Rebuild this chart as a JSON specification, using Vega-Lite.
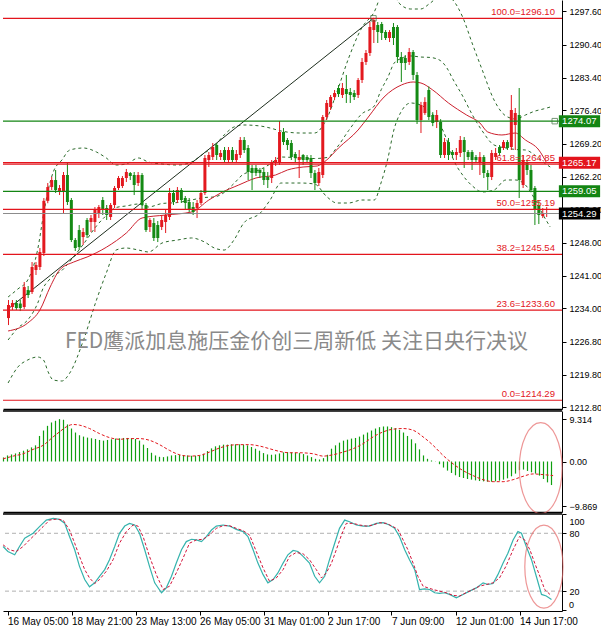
{
  "$schema": "https://vega.github.io/schema/vega-lite/v6.json",
  "padding": 0,
  "background": "#ffffff",
  "bounds": "flush",
  "spacing": 2,
  "config": {
    "view": {"stroke": null},
    "axis": {"grid": false, "labelFont": "Liberation Sans", "labelFontSize": 9, "labelColor": "#000000", "domainColor": "#000000", "tickColor": "#000000", "tickSize": 4, "labelPadding": 3, "labelOverlap": false, "labelBound": false}
  },
  "datasets": {
    "candles": [
      {"i":-1,"o":1231.9,"h":1235.76,"l":1230.4,"c":1234.69},
      {"i":0,"o":1234.26,"h":1235.76,"l":1233.62,"c":1235.12},
      {"i":1,"o":1235.12,"h":1235.76,"l":1233.62,"c":1234.05},
      {"i":2,"o":1235.0,"h":1235.76,"l":1233.4,"c":1234.05},
      {"i":3,"o":1234.26,"h":1239.62,"l":1233.83,"c":1238.54},
      {"i":4,"o":1237.9,"h":1238.76,"l":1236.19,"c":1236.83},
      {"i":5,"o":1237.47,"h":1243.9,"l":1237.05,"c":1242.83},
      {"i":6,"o":1242.19,"h":1243.9,"l":1241.12,"c":1243.26},
      {"i":7,"o":1242.83,"h":1246.9,"l":1242.19,"c":1246.04},
      {"i":8,"o":1245.83,"h":1257.6,"l":1245.18,"c":1257.0},
      {"i":9,"o":1257.0,"h":1260.82,"l":1256.5,"c":1259.96},
      {"i":10,"o":1259.96,"h":1262.11,"l":1259.32,"c":1261.46},
      {"i":11,"o":1261.46,"h":1263.61,"l":1258.68,"c":1259.32},
      {"i":12,"o":1259.1,"h":1260.39,"l":1258.25,"c":1259.75},
      {"i":13,"o":1258.89,"h":1263.18,"l":1254.4,"c":1262.54},
      {"i":14,"o":1262.54,"h":1265.11,"l":1256.11,"c":1256.75},
      {"i":15,"o":1257.18,"h":1257.61,"l":1248.18,"c":1248.61},
      {"i":16,"o":1248.61,"h":1249.04,"l":1246.26,"c":1246.9},
      {"i":17,"o":1250.75,"h":1251.83,"l":1246.47,"c":1247.11},
      {"i":18,"o":1249.25,"h":1251.18,"l":1247.54,"c":1250.33},
      {"i":19,"o":1252.9,"h":1253.32,"l":1249.04,"c":1249.68},
      {"i":20,"o":1252.47,"h":1253.97,"l":1250.33,"c":1253.32},
      {"i":21,"o":1252.47,"h":1255.68,"l":1250.33,"c":1255.04},
      {"i":22,"o":1254.4,"h":1256.11,"l":1253.32,"c":1255.68},
      {"i":23,"o":1257.18,"h":1257.82,"l":1253.97,"c":1255.04},
      {"i":24,"o":1255.47,"h":1256.11,"l":1252.9,"c":1253.97},
      {"i":25,"o":1253.54,"h":1256.54,"l":1252.9,"c":1256.11},
      {"i":26,"o":1256.11,"h":1260.18,"l":1255.47,"c":1259.75},
      {"i":27,"o":1259.75,"h":1262.32,"l":1259.32,"c":1261.89},
      {"i":28,"o":1260.18,"h":1262.32,"l":1259.75,"c":1261.89},
      {"i":29,"o":1261.89,"h":1263.83,"l":1261.04,"c":1263.18},
      {"i":30,"o":1262.96,"h":1263.18,"l":1261.46,"c":1262.32},
      {"i":31,"o":1262.54,"h":1263.18,"l":1258.25,"c":1260.39},
      {"i":32,"o":1260.82,"h":1263.18,"l":1260.18,"c":1262.54},
      {"i":33,"o":1262.54,"h":1262.96,"l":1255.25,"c":1256.11},
      {"i":34,"o":1256.11,"h":1256.54,"l":1250.33,"c":1250.75},
      {"i":35,"o":1251.4,"h":1253.32,"l":1250.33,"c":1252.9},
      {"i":36,"o":1252.25,"h":1253.32,"l":1248.4,"c":1249.04},
      {"i":37,"o":1251.83,"h":1252.68,"l":1248.18,"c":1249.04},
      {"i":38,"o":1251.4,"h":1253.97,"l":1250.75,"c":1252.9},
      {"i":39,"o":1252.47,"h":1255.04,"l":1250.11,"c":1253.97},
      {"i":40,"o":1253.54,"h":1259.75,"l":1252.9,"c":1258.68},
      {"i":41,"o":1258.68,"h":1259.32,"l":1256.11,"c":1256.75},
      {"i":42,"o":1257.18,"h":1259.96,"l":1256.54,"c":1259.32},
      {"i":43,"o":1259.32,"h":1259.75,"l":1256.54,"c":1257.18},
      {"i":44,"o":1257.61,"h":1258.04,"l":1255.04,"c":1256.54},
      {"i":45,"o":1256.75,"h":1257.61,"l":1254.61,"c":1255.04},
      {"i":46,"o":1255.68,"h":1256.75,"l":1253.97,"c":1254.61},
      {"i":47,"o":1255.47,"h":1257.18,"l":1253.32,"c":1256.54},
      {"i":48,"o":1256.54,"h":1259.32,"l":1256.11,"c":1258.68},
      {"i":49,"o":1258.68,"h":1266.82,"l":1258.25,"c":1266.18},
      {"i":50,"o":1265.75,"h":1267.46,"l":1264.25,"c":1266.82},
      {"i":51,"o":1266.39,"h":1269.39,"l":1265.75,"c":1268.53},
      {"i":52,"o":1268.96,"h":1269.39,"l":1265.75,"c":1266.82},
      {"i":53,"o":1266.39,"h":1267.89,"l":1265.75,"c":1267.25},
      {"i":54,"o":1267.89,"h":1268.53,"l":1265.32,"c":1265.75},
      {"i":55,"o":1265.75,"h":1268.53,"l":1265.32,"c":1267.89},
      {"i":56,"o":1267.89,"h":1268.53,"l":1265.32,"c":1265.75},
      {"i":57,"o":1265.75,"h":1267.89,"l":1265.32,"c":1267.03},
      {"i":58,"o":1266.82,"h":1270.67,"l":1266.18,"c":1270.03},
      {"i":59,"o":1270.03,"h":1270.67,"l":1267.25,"c":1267.89},
      {"i":60,"o":1268.32,"h":1268.96,"l":1261.46,"c":1263.18},
      {"i":61,"o":1264.04,"h":1264.68,"l":1259.32,"c":1262.96},
      {"i":62,"o":1264.04,"h":1264.68,"l":1262.32,"c":1262.96},
      {"i":63,"o":1263.61,"h":1264.04,"l":1261.89,"c":1262.96},
      {"i":64,"o":1263.18,"h":1264.04,"l":1260.39,"c":1261.46},
      {"i":65,"o":1262.11,"h":1263.18,"l":1259.75,"c":1261.46},
      {"i":66,"o":1261.89,"h":1265.75,"l":1260.82,"c":1265.11},
      {"i":67,"o":1265.11,"h":1266.39,"l":1264.46,"c":1265.75},
      {"i":68,"o":1265.32,"h":1274.1,"l":1264.68,"c":1271.75},
      {"i":69,"o":1271.75,"h":1272.6,"l":1268.96,"c":1269.6},
      {"i":70,"o":1270.03,"h":1270.46,"l":1267.89,"c":1268.96},
      {"i":71,"o":1269.39,"h":1270.03,"l":1265.75,"c":1266.39},
      {"i":72,"o":1267.03,"h":1267.46,"l":1265.32,"c":1266.18},
      {"i":73,"o":1265.75,"h":1267.89,"l":1261.89,"c":1266.39},
      {"i":74,"o":1266.82,"h":1267.03,"l":1264.68,"c":1265.75},
      {"i":75,"o":1266.39,"h":1266.82,"l":1265.32,"c":1265.75},
      {"i":76,"o":1266.18,"h":1266.82,"l":1261.89,"c":1262.96},
      {"i":77,"o":1262.96,"h":1263.61,"l":1259.32,"c":1260.82},
      {"i":78,"o":1260.82,"h":1264.04,"l":1260.18,"c":1263.18},
      {"i":79,"o":1262.54,"h":1275.39,"l":1261.89,"c":1274.96},
      {"i":80,"o":1274.96,"h":1278.6,"l":1274.32,"c":1277.96},
      {"i":81,"o":1277.1,"h":1279.67,"l":1276.46,"c":1279.24},
      {"i":82,"o":1279.24,"h":1280.74,"l":1278.6,"c":1280.1},
      {"i":83,"o":1281.17,"h":1281.81,"l":1279.24,"c":1279.88},
      {"i":84,"o":1279.67,"h":1282.24,"l":1279.03,"c":1281.17},
      {"i":85,"o":1280.96,"h":1283.96,"l":1277.96,"c":1279.88},
      {"i":86,"o":1280.31,"h":1281.17,"l":1277.96,"c":1279.67},
      {"i":87,"o":1280.1,"h":1280.74,"l":1278.6,"c":1279.24},
      {"i":88,"o":1279.67,"h":1283.31,"l":1279.03,"c":1282.88},
      {"i":89,"o":1282.88,"h":1287.6,"l":1282.24,"c":1286.74},
      {"i":90,"o":1286.74,"h":1289.31,"l":1286.1,"c":1288.67},
      {"i":91,"o":1288.67,"h":1295.31,"l":1288.03,"c":1294.24},
      {"i":92,"o":1293.59,"h":1296.1,"l":1290.81,"c":1295.74},
      {"i":93,"o":1294.66,"h":1295.31,"l":1290.81,"c":1293.17},
      {"i":94,"o":1294.88,"h":1295.31,"l":1291.45,"c":1292.95},
      {"i":95,"o":1293.17,"h":1293.59,"l":1291.45,"c":1291.88},
      {"i":96,"o":1291.88,"h":1293.59,"l":1291.02,"c":1293.17},
      {"i":97,"o":1294.24,"h":1295.09,"l":1290.38,"c":1291.88},
      {"i":98,"o":1294.24,"h":1294.66,"l":1286.53,"c":1287.81},
      {"i":99,"o":1287.81,"h":1288.88,"l":1282.46,"c":1286.53},
      {"i":100,"o":1287.6,"h":1288.24,"l":1285.03,"c":1286.53},
      {"i":101,"o":1286.74,"h":1289.74,"l":1286.1,"c":1288.88},
      {"i":102,"o":1288.88,"h":1289.31,"l":1282.88,"c":1283.96},
      {"i":103,"o":1283.96,"h":1284.6,"l":1273.46,"c":1274.32},
      {"i":104,"o":1274.32,"h":1278.2,"l":1271.53,"c":1277.53},
      {"i":105,"o":1275.81,"h":1279.2,"l":1275.4,"c":1278.17},
      {"i":106,"o":1280.74,"h":1281.5,"l":1274.3,"c":1274.96},
      {"i":107,"o":1275.39,"h":1276.0,"l":1273.0,"c":1273.68},
      {"i":108,"o":1273.9,"h":1276.46,"l":1272.6,"c":1275.39},
      {"i":109,"o":1273.89,"h":1274.5,"l":1266.18,"c":1266.82},
      {"i":110,"o":1266.82,"h":1270.46,"l":1266.18,"c":1269.6},
      {"i":111,"o":1269.6,"h":1270.46,"l":1265.75,"c":1266.82},
      {"i":112,"o":1267.46,"h":1267.89,"l":1266.18,"c":1266.82},
      {"i":113,"o":1266.82,"h":1268.32,"l":1265.75,"c":1267.46},
      {"i":114,"o":1267.25,"h":1270.89,"l":1266.39,"c":1270.03},
      {"i":115,"o":1270.03,"h":1270.67,"l":1264.04,"c":1267.46},
      {"i":116,"o":1267.46,"h":1267.89,"l":1265.75,"c":1266.39},
      {"i":117,"o":1267.46,"h":1267.89,"l":1263.61,"c":1265.75},
      {"i":118,"o":1266.39,"h":1266.82,"l":1265.32,"c":1265.75},
      {"i":119,"o":1265.11,"h":1267.46,"l":1262.54,"c":1266.39},
      {"i":120,"o":1266.39,"h":1266.82,"l":1261.89,"c":1262.96},
      {"i":121,"o":1262.96,"h":1263.61,"l":1259.32,"c":1262.11},
      {"i":122,"o":1262.11,"h":1267.89,"l":1261.46,"c":1267.25},
      {"i":123,"o":1266.39,"h":1268.32,"l":1265.75,"c":1267.25},
      {"i":124,"o":1268.53,"h":1268.96,"l":1266.6,"c":1267.25},
      {"i":125,"o":1268.32,"h":1270.03,"l":1267.89,"c":1269.6},
      {"i":126,"o":1269.6,"h":1270.03,"l":1267.89,"c":1268.32},
      {"i":127,"o":1268.53,"h":1279.67,"l":1267.89,"c":1276.46},
      {"i":128,"o":1273.25,"h":1276.89,"l":1267.89,"c":1275.81},
      {"i":129,"o":1275.39,"h":1281.17,"l":1257.61,"c":1261.46},
      {"i":130,"o":1260.39,"h":1266.82,"l":1259.75,"c":1265.75},
      {"i":131,"o":1265.11,"h":1265.75,"l":1262.54,"c":1263.61},
      {"i":132,"o":1263.61,"h":1264.68,"l":1258.89,"c":1259.32},
      {"i":133,"o":1259.75,"h":1260.18,"l":1251.83,"c":1255.04},
      {"i":134,"o":1256.11,"h":1257.18,"l":1252.04,"c":1253.97},
      {"i":135,"o":1253.75,"h":1255.47,"l":1253.32,"c":1254.4},
      {"i":136,"o":1254.18,"h":1255.68,"l":1253.54,"c":1254.29}
    ],
    "bands": [
      {"i":-1.1,"u":1236.41,"m":1227.2,"l":1217.99},
      {"i":1.4,"u":1238.13,"m":1229.78,"l":1221.42},
      {"i":3.9,"u":1240.05,"m":1231.49,"l":1222.92},
      {"i":6.4,"u":1246.47,"m":1235.02,"l":1223.56},
      {"i":7.9,"u":1253.97,"m":1238.45,"l":1222.92},
      {"i":9.1,"u":1259.33,"m":1239.84,"l":1220.35},
      {"i":10.4,"u":1263.18,"m":1240.91,"l":1218.63},
      {"i":12.6,"u":1265.75,"m":1242.09,"l":1218.42},
      {"i":14.6,"u":1267.89,"m":1244.01,"l":1220.13},
      {"i":18.1,"u":1268.32,"m":1247.76,"l":1227.2},
      {"i":21.4,"u":1267.46,"m":1251.62,"l":1235.77},
      {"i":23.9,"u":1266.18,"m":1253.87,"l":1241.55},
      {"i":26.4,"u":1264.68,"m":1255.58,"l":1246.47},
      {"i":28.9,"u":1264.89,"m":1255.9,"l":1246.9},
      {"i":32.1,"u":1266.18,"m":1256.33,"l":1246.47},
      {"i":34.6,"u":1265.32,"m":1255.69,"l":1246.05},
      {"i":38.1,"u":1264.89,"m":1256.43,"l":1247.97},
      {"i":42.1,"u":1264.68,"m":1256.65,"l":1248.62},
      {"i":45.6,"u":1265.32,"m":1257.19,"l":1249.05},
      {"i":48.9,"u":1267.25,"m":1257.72,"l":1248.19},
      {"i":51.4,"u":1268.75,"m":1257.83,"l":1246.9},
      {"i":53.9,"u":1271.11,"m":1258.79,"l":1246.47},
      {"i":56.4,"u":1272.82,"m":1260.72,"l":1248.62},
      {"i":58.9,"u":1273.25,"m":1262.76,"l":1252.26},
      {"i":63.1,"u":1273.03,"m":1263.72,"l":1254.4},
      {"i":65.6,"u":1272.6,"m":1264.89,"l":1257.18},
      {"i":68.4,"u":1271.96,"m":1266.39,"l":1260.82},
      {"i":73.4,"u":1271.53,"m":1266.18,"l":1260.82},
      {"i":76.9,"u":1271.53,"m":1266.07,"l":1260.61},
      {"i":80.1,"u":1274.75,"m":1266.29,"l":1257.83},
      {"i":82.6,"u":1280.32,"m":1268.43,"l":1256.54},
      {"i":85.6,"u":1287.6,"m":1272.07,"l":1256.54},
      {"i":88.9,"u":1294.02,"m":1275.6,"l":1257.18},
      {"i":92.1,"u":1297.45,"m":1277.32,"l":1257.18},
      {"i":93.9,"u":1300.66,"m":1280.85,"l":1261.04},
      {"i":95.6,"u":1300.88,"m":1283.53,"l":1266.18},
      {"i":97.1,"u":1300.66,"m":1286.42,"l":1272.18},
      {"i":98.9,"u":1298.95,"m":1287.49,"l":1276.03},
      {"i":101.4,"u":1298.09,"m":1288.03,"l":1277.96},
      {"i":103.9,"u":1298.09,"m":1287.81,"l":1277.53},
      {"i":106.4,"u":1299.38,"m":1287.71,"l":1276.03},
      {"i":108.9,"u":1300.88,"m":1287.07,"l":1273.25},
      {"i":110.6,"u":1300.88,"m":1285.46,"l":1270.03},
      {"i":112.1,"u":1300.02,"m":1283.1,"l":1266.18},
      {"i":114.6,"u":1296.38,"m":1279.46,"l":1262.54},
      {"i":117.1,"u":1290.6,"m":1275.39,"l":1260.18},
      {"i":119.6,"u":1285.03,"m":1271.97,"l":1258.9},
      {"i":122.6,"u":1278.6,"m":1268.97,"l":1259.33},
      {"i":125.6,"u":1275.18,"m":1268.33,"l":1261.47},
      {"i":128.1,"u":1274.53,"m":1268.0,"l":1261.47},
      {"i":130.6,"u":1275.39,"m":1267.89,"l":1260.39},
      {"i":133.1,"u":1276.25,"m":1266.72,"l":1257.18},
      {"i":135.1,"u":1276.67,"m":1265.32,"l":1253.97},
      {"i":136.9,"u":1277.1,"m":1264.25,"l":1251.4}
    ],
    "ma": [
      {"i":-1.1,"v":1229.13},{"i":3.9,"v":1230.84},{"i":7.0,"v":1233.62},{"i":9.6,"v":1238.55},
      {"i":12.0,"v":1242.19},{"i":15.6,"v":1243.9},{"i":19.0,"v":1244.97},{"i":24.0,"v":1247.11},
      {"i":29.0,"v":1250.12},{"i":33.0,"v":1253.33},{"i":39.0,"v":1253.97},{"i":45.6,"v":1254.61},
      {"i":50.0,"v":1257.18},{"i":53.0,"v":1258.68},{"i":57.6,"v":1260.39},{"i":62.0,"v":1261.9},
      {"i":67.0,"v":1262.54},{"i":70.0,"v":1263.61},{"i":74.0,"v":1264.25},{"i":77.6,"v":1264.47},
      {"i":80.0,"v":1265.75},{"i":83.0,"v":1268.32},{"i":88.0,"v":1272.18},{"i":90.6,"v":1274.96},
      {"i":94.6,"v":1279.24},{"i":99.0,"v":1281.81},{"i":102.0,"v":1282.46},{"i":104.0,"v":1282.24},
      {"i":107.0,"v":1280.74},{"i":111.0,"v":1277.96},{"i":115.6,"v":1275.39},{"i":119.0,"v":1273.68},
      {"i":121.0,"v":1271.75},{"i":124.6,"v":1271.11},{"i":128.0,"v":1271.53},{"i":130.6,"v":1270.03},
      {"i":134.0,"v":1267.89},{"i":136.0,"v":1265.11}
    ],
    "diag": [{"i":-1.125,"v":1233.84},{"i":91.9,"v":1296.1}],
    "levels": [
      {"p":1296.1,"kind":"fib"},{"p":1264.85,"kind":"fib"},{"p":1255.19,"kind":"fib"},
      {"p":1245.54,"kind":"fib"},{"p":1233.6,"kind":"fib"},{"p":1214.29,"kind":"fib"},
      {"p":1265.17,"kind":"red"},{"p":1274.07,"kind":"green"},{"p":1259.05,"kind":"green"},
      {"p":1254.29,"kind":"bid"}
    ],
    "fiblabels": [
      {"p":1296.1,"label":"100.0=1296.10"},{"p":1264.85,"label":"61.8=1264.85"},
      {"p":1255.19,"label":"50.0=1255.19"},{"p":1245.54,"label":"38.2=1245.54"},
      {"p":1233.6,"label":"23.6=1233.60"},{"p":1214.29,"label":"0.0=1214.29"}
    ],
    "tags": [
      {"p":1274.07,"kind":"green"},{"p":1265.17,"kind":"red"},
      {"p":1259.05,"kind":"green"},{"p":1254.29,"kind":"bid"}
    ],
    "macd": [
      {"i":-1,"h":0.89},{"i":0,"h":1.33},{"i":1,"h":1.55},{"i":2,"h":1.77},{"i":3,"h":2.07},{"i":4,"h":2.37},
      {"i":5,"h":2.66},{"i":6,"h":3.1},{"i":7,"h":3.55},{"i":8,"h":5.61},{"i":9,"h":6.8},{"i":10,"h":7.83},
      {"i":11,"h":8.57},{"i":12,"h":8.94},{"i":13,"h":9.31},{"i":14,"h":9.17},{"i":15,"h":8.14},{"i":16,"h":7.24},
      {"i":17,"h":6.36},{"i":18,"h":5.77},{"i":19,"h":5.47},{"i":20,"h":5.25},{"i":21,"h":5.1},{"i":22,"h":4.95},
      {"i":23,"h":4.73},{"i":24,"h":4.58},{"i":25,"h":4.73},{"i":26,"h":4.88},{"i":27,"h":5.03},{"i":28,"h":5.1},
      {"i":29,"h":5.17},{"i":30,"h":5.17},{"i":31,"h":5.1},{"i":32,"h":4.95},{"i":33,"h":4.58},{"i":34,"h":3.7},
      {"i":35,"h":2.96},{"i":36,"h":1.92},{"i":37,"h":1.33},{"i":38,"h":1.03},{"i":39,"h":0.96},{"i":40,"h":1.11},
      {"i":41,"h":1.33},{"i":42,"h":1.4},{"i":43,"h":1.48},{"i":44,"h":1.4},{"i":45,"h":1.33},{"i":46,"h":1.26},
      {"i":47,"h":1.26},{"i":48,"h":1.33},{"i":49,"h":1.7},{"i":50,"h":2.29},{"i":51,"h":2.88},{"i":52,"h":3.33},
      {"i":53,"h":3.55},{"i":54,"h":3.7},{"i":55,"h":3.7},{"i":56,"h":3.77},{"i":57,"h":3.77},{"i":58,"h":3.77},
      {"i":59,"h":3.7},{"i":60,"h":3.55},{"i":61,"h":3.18},{"i":62,"h":2.81},{"i":63,"h":2.37},{"i":64,"h":1.85},
      {"i":65,"h":1.55},{"i":66,"h":1.48},{"i":67,"h":1.55},{"i":68,"h":1.77},{"i":69,"h":2.0},{"i":70,"h":2.07},
      {"i":71,"h":2.0},{"i":72,"h":1.92},{"i":73,"h":1.85},{"i":74,"h":1.63},{"i":75,"h":1.33},{"i":76,"h":0.96},
      {"i":77,"h":0.59},{"i":78,"h":0.44},{"i":79,"h":0.74},{"i":80,"h":1.48},{"i":81,"h":2.81},{"i":82,"h":3.55},
      {"i":83,"h":4.14},{"i":84,"h":4.58},{"i":85,"h":4.8},{"i":86,"h":5.03},{"i":87,"h":5.17},{"i":88,"h":5.47},
      {"i":89,"h":5.91},{"i":90,"h":6.36},{"i":91,"h":6.8},{"i":92,"h":7.24},{"i":93,"h":7.54},{"i":94,"h":7.69},
      {"i":95,"h":7.69},{"i":96,"h":7.54},{"i":97,"h":7.32},{"i":98,"h":6.95},{"i":99,"h":6.36},{"i":100,"h":5.61},
      {"i":101,"h":4.88},{"i":102,"h":3.99},{"i":103,"h":2.66},{"i":104,"h":1.33},{"i":105,"h":0.59},{"i":106,"h":0.22},
      {"i":107,"h":0.05},{"i":108,"h":-0.59},{"i":109,"h":-1.33},{"i":110,"h":-2.0},{"i":111,"h":-2.51},{"i":112,"h":-3.03},
      {"i":113,"h":-3.4},{"i":114,"h":-3.62},{"i":115,"h":-3.84},{"i":116,"h":-3.99},{"i":117,"h":-4.14},{"i":118,"h":-4.29},
      {"i":119,"h":-4.36},{"i":120,"h":-4.43},{"i":121,"h":-4.43},{"i":122,"h":-4.36},{"i":123,"h":-4.21},{"i":124,"h":-3.99},
      {"i":125,"h":-3.7},{"i":126,"h":-3.25},{"i":127,"h":-2.66},{"i":128,"h":-1.92},{"i":129,"h":-1.77},{"i":130,"h":-2.07},
      {"i":131,"h":-2.37},{"i":132,"h":-2.66},{"i":133,"h":-3.1},{"i":134,"h":-3.84},{"i":135,"h":-4.58},{"i":136,"h":-5.17}
    ],
    "signal": [
      {"i":-1.1,"v":0.59},{"i":1.4,"v":1.18},{"i":3.9,"v":1.7},{"i":6.4,"v":2.66},{"i":8.9,"v":3.55},
      {"i":11.4,"v":5.4},{"i":13.0,"v":6.5},{"i":14.7,"v":7.61},{"i":16.4,"v":8.13},{"i":18.0,"v":7.98},
      {"i":20.5,"v":7.24},{"i":23.0,"v":6.13},{"i":25.5,"v":5.25},{"i":28.0,"v":4.88},{"i":30.5,"v":5.03},
      {"i":33.0,"v":5.03},{"i":35.5,"v":4.66},{"i":38.0,"v":3.7},{"i":40.5,"v":2.44},{"i":43.0,"v":1.48},
      {"i":45.5,"v":1.18},{"i":48.0,"v":1.33},{"i":50.5,"v":2.07},{"i":53.0,"v":2.96},{"i":55.5,"v":3.55},
      {"i":58.0,"v":3.7},{"i":60.5,"v":3.7},{"i":63.0,"v":3.4},{"i":65.5,"v":2.81},{"i":68.0,"v":2.22},
      {"i":70.5,"v":1.92},{"i":73.0,"v":1.92},{"i":76.4,"v":1.7},{"i":78.9,"v":1.18},{"i":81.4,"v":1.48},
      {"i":83.9,"v":2.07},{"i":86.4,"v":2.81},{"i":88.9,"v":3.92},{"i":91.4,"v":5.4},{"i":93.9,"v":6.5},
      {"i":96.4,"v":7.1},{"i":98.9,"v":7.24},{"i":101.4,"v":6.87},{"i":103.9,"v":5.4},{"i":106.4,"v":3.55},
      {"i":108.9,"v":1.33},{"i":111.4,"v":-0.52},{"i":113.9,"v":-2.0},{"i":116.4,"v":-3.1},{"i":118.9,"v":-3.99},
      {"i":121.4,"v":-4.43},{"i":123.9,"v":-4.43},{"i":126.4,"v":-3.99},{"i":128.9,"v":-3.25},{"i":131.4,"v":-2.73},
      {"i":133.9,"v":-2.88},{"i":136.4,"v":-3.1}
    ],
    "stochK": [
      {"i":-1.1,"v":66.3},{"i":0.1,"v":61.1},{"i":1.8,"v":57.7},{"i":3.0,"v":66.3},{"i":4.3,"v":74.9},
      {"i":6.4,"v":80.0},{"i":8.0,"v":86.9},{"i":9.7,"v":93.7},{"i":11.4,"v":95.4},{"i":13.0,"v":94.4},
      {"i":14.3,"v":90.3},{"i":15.5,"v":76.6},{"i":16.8,"v":62.9},{"i":18.0,"v":45.7},{"i":19.3,"v":32.0},
      {"i":20.5,"v":24.5},{"i":21.8,"v":28.6},{"i":23.0,"v":35.4},{"i":24.3,"v":42.3},{"i":25.5,"v":52.6},
      {"i":26.8,"v":66.3},{"i":28.0,"v":80.0},{"i":29.3,"v":87.5},{"i":30.5,"v":90.3},{"i":31.8,"v":88.6},
      {"i":33.0,"v":80.0},{"i":34.3,"v":62.9},{"i":35.5,"v":45.7},{"i":36.8,"v":28.6},{"i":38.5,"v":18.3},
      {"i":39.7,"v":23.4},{"i":41.0,"v":35.4},{"i":42.2,"v":49.1},{"i":43.5,"v":62.9},{"i":44.7,"v":71.4},
      {"i":46.0,"v":73.8},{"i":47.2,"v":73.1},{"i":48.5,"v":71.4},{"i":49.7,"v":76.6},{"i":51.0,"v":83.4},
      {"i":52.2,"v":87.5},{"i":53.9,"v":88.6},{"i":55.5,"v":87.5},{"i":57.2,"v":84.1},{"i":58.9,"v":81.7},
      {"i":60.1,"v":76.6},{"i":61.4,"v":62.9},{"i":62.6,"v":49.1},{"i":63.9,"v":37.1},{"i":65.1,"v":28.6},
      {"i":66.4,"v":32.0},{"i":67.6,"v":38.9},{"i":68.9,"v":49.1},{"i":70.1,"v":57.7},{"i":71.4,"v":62.2},
      {"i":72.6,"v":61.1},{"i":73.9,"v":56.0},{"i":75.5,"v":49.1},{"i":76.8,"v":35.4},{"i":78.0,"v":28.6},
      {"i":79.3,"v":35.4},{"i":80.5,"v":52.6},{"i":81.8,"v":69.7},{"i":83.0,"v":85.1},{"i":84.3,"v":93.7},
      {"i":85.5,"v":92.0},{"i":87.2,"v":88.6},{"i":88.9,"v":87.5},{"i":90.5,"v":87.5},{"i":92.2,"v":90.3},
      {"i":93.9,"v":91.0},{"i":95.5,"v":88.6},{"i":96.8,"v":85.1},{"i":98.0,"v":76.6},{"i":99.3,"v":62.9},
      {"i":100.5,"v":52.6},{"i":101.8,"v":42.3},{"i":103.0,"v":21.7},{"i":104.3,"v":22.4},{"i":105.5,"v":21.7},
      {"i":106.8,"v":18.3},{"i":108.0,"v":17.6},{"i":109.3,"v":18.3},{"i":110.5,"v":16.6},{"i":112.2,"v":13.1},
      {"i":113.9,"v":16.6},{"i":115.5,"v":20.0},{"i":117.2,"v":23.4},{"i":118.9,"v":28.6},{"i":120.1,"v":26.9},
      {"i":121.4,"v":27.9},{"i":122.6,"v":37.1},{"i":123.9,"v":49.1},{"i":125.1,"v":59.4},{"i":126.4,"v":73.1},
      {"i":127.6,"v":81.7},{"i":128.5,"v":80.0},{"i":129.7,"v":66.3},{"i":131.0,"v":52.6},{"i":132.2,"v":35.4},
      {"i":133.5,"v":16.6},{"i":134.7,"v":14.9},{"i":136.0,"v":11.4}
    ],
    "stochD": [
      {"i":-1.1,"v":68.0},{"i":0.5,"v":62.9},{"i":2.2,"v":61.1},{"i":3.9,"v":66.3},{"i":5.5,"v":73.1},
      {"i":7.2,"v":80.0},{"i":8.9,"v":86.9},{"i":10.5,"v":93.7},{"i":12.2,"v":94.7},{"i":13.9,"v":93.7},
      {"i":15.5,"v":83.4},{"i":16.8,"v":69.7},{"i":18.0,"v":56.0},{"i":19.3,"v":42.3},{"i":20.5,"v":33.7},
      {"i":21.8,"v":27.9},{"i":23.0,"v":32.0},{"i":24.7,"v":40.6},{"i":26.4,"v":52.6},{"i":28.0,"v":69.7},
      {"i":29.7,"v":81.7},{"i":31.4,"v":88.6},{"i":32.6,"v":87.5},{"i":33.9,"v":76.6},{"i":35.5,"v":56.0},
      {"i":37.2,"v":37.1},{"i":38.9,"v":21.7},{"i":40.5,"v":25.1},{"i":42.2,"v":38.9},{"i":43.9,"v":54.3},
      {"i":45.5,"v":69.7},{"i":47.2,"v":73.1},{"i":48.9,"v":73.8},{"i":50.5,"v":78.3},{"i":52.2,"v":85.1},
      {"i":53.9,"v":87.9},{"i":55.5,"v":87.9},{"i":57.2,"v":85.1},{"i":58.9,"v":82.7},{"i":60.5,"v":78.3},
      {"i":62.2,"v":61.1},{"i":63.9,"v":44.0},{"i":65.5,"v":30.3},{"i":67.2,"v":33.7},{"i":68.9,"v":42.3},
      {"i":70.5,"v":56.0},{"i":72.2,"v":60.1},{"i":73.9,"v":58.7},{"i":75.5,"v":52.6},{"i":77.2,"v":42.3},
      {"i":78.5,"v":33.7},{"i":79.7,"v":38.9},{"i":81.0,"v":49.1},{"i":82.2,"v":62.9},{"i":83.5,"v":78.3},
      {"i":84.7,"v":90.3},{"i":86.4,"v":90.3},{"i":88.0,"v":88.6},{"i":89.7,"v":87.5},{"i":91.4,"v":88.6},
      {"i":93.0,"v":91.0},{"i":94.7,"v":90.3},{"i":96.4,"v":86.9},{"i":97.6,"v":84.1},{"i":98.9,"v":73.1},
      {"i":100.1,"v":62.9},{"i":101.4,"v":49.1},{"i":102.6,"v":35.4},{"i":103.9,"v":25.1},{"i":105.1,"v":23.4},
      {"i":106.4,"v":21.7},{"i":108.0,"v":20.0},{"i":109.7,"v":18.3},{"i":111.4,"v":15.6},{"i":113.0,"v":14.9},
      {"i":114.6,"v":18.3},{"i":116.4,"v":21.7},{"i":118.0,"v":25.1},{"i":119.7,"v":26.9},{"i":121.4,"v":28.6},
      {"i":123.0,"v":33.7},{"i":124.6,"v":45.7},{"i":126.4,"v":62.9},{"i":128.0,"v":76.6},{"i":129.3,"v":73.1},
      {"i":130.6,"v":62.9},{"i":131.8,"v":49.1},{"i":133.1,"v":35.4},{"i":134.3,"v":21.7},{"i":135.6,"v":16.6}
    ],
    "stochLevels": [{"v":20},{"v":80}]
  },
  "vconcat": [
    {
      "width": 559,
      "height": 409,
      "layer": [
        {
          "data": {"name": "bands"},
          "mark": {"type": "line", "color": "#2b6a2b", "strokeWidth": 1, "strokeDash": [3, 3], "interpolate": "monotone", "clip": true},
          "encoding": {
            "x": {"field": "i", "type": "quantitative", "scale": {"domain": [-1.125, 138.625], "nice": false, "zero": false},
                  "axis": {"title": null, "labels": false, "ticks": false, "domain": true, "domainWidth": 1.5}},
            "y": {"field": "u", "type": "quantitative", "scale": {"domain": [1212.42, 1300.02], "nice": false, "zero": false},
                  "axis": {"orient": "right", "title": null, "tickCount": 30, "labelOverlap": false, "labelBound": false, "labelFlush": false, "values": [1212.8, 1219.8, 1226.8, 1234, 1241, 1248, 1255.2, 1262.2, 1269.2, 1276.4, 1283.4, 1290.4, 1297.6], "format": ".2f"}}
          }
        },
        {
          "data": {"name": "bands"},
          "mark": {"type": "line", "color": "#2b6a2b", "strokeWidth": 1, "strokeDash": [3, 3], "interpolate": "monotone", "clip": true},
          "encoding": {
            "x": {"field": "i", "type": "quantitative"},
            "y": {"field": "m", "type": "quantitative"}
          }
        },
        {
          "data": {"name": "bands"},
          "mark": {"type": "line", "color": "#2b6a2b", "strokeWidth": 1, "strokeDash": [3, 3], "interpolate": "monotone", "clip": true},
          "encoding": {
            "x": {"field": "i", "type": "quantitative"},
            "y": {"field": "l", "type": "quantitative"}
          }
        },
        {
          "data": {"name": "ma"},
          "mark": {"type": "line", "color": "#cc1f2d", "strokeWidth": 1, "interpolate": "monotone", "clip": true},
          "encoding": {
            "x": {"field": "i", "type": "quantitative"},
            "y": {"field": "v", "type": "quantitative"}
          }
        },
        {
          "data": {"name": "diag"},
          "mark": {"type": "line", "color": "#1e2e1e", "strokeWidth": 1, "clip": true},
          "encoding": {
            "x": {"field": "i", "type": "quantitative"},
            "y": {"field": "v", "type": "quantitative"}
          }
        },
        {
          "data": {"name": "candles"},
          "mark": {"type": "rule", "strokeWidth": 1},
          "encoding": {
            "x": {"field": "i", "type": "quantitative"},
            "y": {"field": "l", "type": "quantitative"},
            "y2": {"field": "h"},
            "color": {"condition": {"test": "datum.c >= datum.o", "value": "#e3191f"}, "value": "#148a14"}
          }
        },
        {
          "data": {"name": "candles"},
          "mark": {"type": "bar", "width": 3},
          "encoding": {
            "x": {"field": "i", "type": "quantitative"},
            "y": {"field": "o", "type": "quantitative"},
            "y2": {"field": "c"},
            "color": {"condition": {"test": "datum.c >= datum.o", "value": "#e3191f"}, "value": "#148a14"}
          }
        },
        {
          "data": {"name": "levels"},
          "mark": {"type": "rule", "strokeWidth": 1.2},
          "encoding": {
            "y": {"field": "p", "type": "quantitative"},
            "color": {"condition": [
              {"test": "datum.kind == 'green'", "value": "#138513"},
              {"test": "datum.kind == 'bid'", "value": "#8c8c8c"}
            ], "value": "#e3141c"}
          }
        },
        {
          "data": {"name": "fiblabels"},
          "mark": {"type": "text", "align": "right", "baseline": "bottom", "dy": -1, "color": "#e3141c", "font": "Liberation Sans", "fontSize": 9.5},
          "encoding": {
            "x": {"datum": 138.1, "type": "quantitative"},
            "y": {"field": "p", "type": "quantitative"},
            "text": {"field": "label"}
          }
        },
        {
          "data": {"values": [{"i": 91.9, "v": 1296.1}, {"i": 138.05, "v": 1274.07}]},
          "mark": {"type": "point", "shape": "square", "size": 30, "filled": false, "strokeWidth": 1, "color": "#3d6b3d"},
          "encoding": {
            "x": {"field": "i", "type": "quantitative"},
            "y": {"field": "v", "type": "quantitative"}
          }
        },
        {
          "data": {"name": "tags"},
          "mark": {"type": "rule", "strokeWidth": 12, "strokeCap": "butt"},
          "encoding": {
            "x": {"datum": 139.1, "type": "quantitative"},
            "x2": {"datum": 149.6},
            "y": {"field": "p", "type": "quantitative"},
            "color": {"condition": [
              {"test": "datum.kind == 'green'", "value": "#138513"},
              {"test": "datum.kind == 'bid'", "value": "#000000"}
            ], "value": "#e3141c"}
          }
        },
        {
          "data": {"name": "tags"},
          "mark": {"type": "text", "align": "center", "baseline": "middle", "color": "#ffffff", "font": "Liberation Sans", "fontSize": 9.5},
          "encoding": {
            "x": {"datum": 144.3, "type": "quantitative"},
            "y": {"field": "p", "type": "quantitative"},
            "text": {"field": "p", "format": ".2f"}
          }
        },
        {
          "data": {"values": [{"t": "FED鹰派加息施压金价创三周新低 关注日央行决议"}]},
          "mark": {"type": "text", "align": "center", "baseline": "middle", "color": "#8a8a8a", "font": "Noto Sans CJK SC", "fontSize": 21},
          "encoding": {
            "x": {"datum": 72.3, "type": "quantitative"},
            "y": {"datum": 1226.8, "type": "quantitative"},
            "text": {"field": "t"}
          }
        }
      ]
    },
    {
      "width": 559,
      "height": 101,
      "layer": [
        {
          "data": {"name": "macd"},
          "mark": {"type": "rule", "strokeWidth": 1.2, "color": "#0f9f0f", "stroke": "#0f9f0f", "opacity": 1},
          "encoding": {
            "x": {"field": "i", "type": "quantitative", "scale": {"domain": [-1.125, 138.625], "nice": false, "zero": false},
                  "axis": {"title": null, "labels": false, "ticks": false, "domain": true, "domainWidth": 1.5}},
            "y": {"field": "h", "type": "quantitative", "scale": {"domain": [-11.09, 11.09], "nice": false, "zero": false},
                  "axis": {"orient": "right", "title": null, "tickCount": 10, "labelOverlap": false, "values": [-9.869, 0, 9.314], "labelExpr": "datum.value == 0 ? '0.00' : format(datum.value, '.3f')"}},
            "y2": {"datum": 0}
          }
        },
        {
          "data": {"name": "signal"},
          "mark": {"type": "line", "color": "#e3171d", "strokeWidth": 1, "strokeDash": [3, 2], "interpolate": "monotone"},
          "encoding": {
            "x": {"field": "i", "type": "quantitative"},
            "y": {"field": "v", "type": "quantitative"}
          }
        },
        {
          "data": {"values": [{"top": 11.09}]},
          "mark": {"type": "rule", "color": "#000000", "strokeWidth": 1.5},
          "encoding": {
            "y": {"field": "top", "type": "quantitative"}
          }
        },
        {
          "data": {"values": [{"i": 133.3, "v": -1.44}]},
          "mark": {"type": "point", "shape": "M 0 -1 A 0.47 1 0 1 1 0 1 A 0.47 1 0 1 1 0 -1 Z", "size": 8281, "filled": false, "color": "#e76b6b", "strokeWidth": 1.2},
          "encoding": {
            "x": {"field": "i", "type": "quantitative"},
            "y": {"field": "v", "type": "quantitative"}
          }
        }
      ]
    },
    {
      "width": 559,
      "height": 97,
      "layer": [
        {
          "data": {"name": "stochLevels"},
          "mark": {"type": "rule", "color": "#b0b0b0", "strokeWidth": 1, "strokeDash": [4, 3]},
          "encoding": {
            "y": {"field": "v", "type": "quantitative", "scale": {"domain": [-0.6, 100], "nice": false, "zero": false},
                  "axis": {"orient": "right", "title": null, "tickCount": 10, "labelOverlap": false, "labelFlush": false, "values": [0, 20, 80, 100],
                           "labelExpr": "datum.value == 0 ? '' : datum.label",
                           "labelOffset": {"condition": {"test": "datum.value == 100", "value": 7}, "value": 0}}}
          }
        },
        {
          "data": {"name": "stochK"},
          "mark": {"type": "line", "color": "#35b3ad", "strokeWidth": 1.2},
          "encoding": {
            "x": {"field": "i", "type": "quantitative", "scale": {"domain": [-1.125, 138.625], "nice": false, "zero": false},
                  "axis": {"title": null, "tickCount": 20, "labelOverlap": false, "values": [0, 16, 32, 48, 64, 80, 96, 112, 128], "labelAlign": "left", "labelFlush": false, "labelPadding": 1, "labelFontSize": 10,
                           "labelExpr": "['16 May 05:00','18 May 21:00','23 May 13:00','26 May 05:00','31 May 01:00','2 Jun 17:00','7 Jun 09:00','12 Jun 01:00','14 Jun 17:00'][round(datum.value / 16)]"}},
            "y": {"field": "v", "type": "quantitative"}
          }
        },
        {
          "data": {"name": "stochD"},
          "mark": {"type": "line", "color": "#d3143a", "strokeWidth": 1, "strokeDash": [3, 2]},
          "encoding": {
            "x": {"field": "i", "type": "quantitative"},
            "y": {"field": "v", "type": "quantitative"}
          }
        },
        {
          "data": {"values": [{"top": 100}]},
          "mark": {"type": "rule", "color": "#000000", "strokeWidth": 1.5},
          "encoding": {
            "y": {"field": "top", "type": "quantitative"}
          }
        },
        {
          "data": {"values": [{"lab": "0", "v": 0}]},
          "mark": {"type": "text", "align": "left", "baseline": "middle", "dy": -5, "color": "#000000", "font": "Liberation Sans", "fontSize": 9},
          "encoding": {
            "x": {"datum": 140.4, "type": "quantitative"},
            "y": {"field": "v", "type": "quantitative"},
            "text": {"field": "lab"}
          }
        },
        {
          "data": {"values": [{"i": 134.1, "v": 45.4}]},
          "mark": {"type": "point", "shape": "M 0 -1 A 0.46 1 0 1 1 0 1 A 0.46 1 0 1 1 0 -1 Z", "size": 6889, "filled": false, "color": "#e76b6b", "strokeWidth": 1.2},
          "encoding": {
            "x": {"field": "i", "type": "quantitative"},
            "y": {"field": "v", "type": "quantitative"}
          }
        }
      ]
    }
  ]
}
